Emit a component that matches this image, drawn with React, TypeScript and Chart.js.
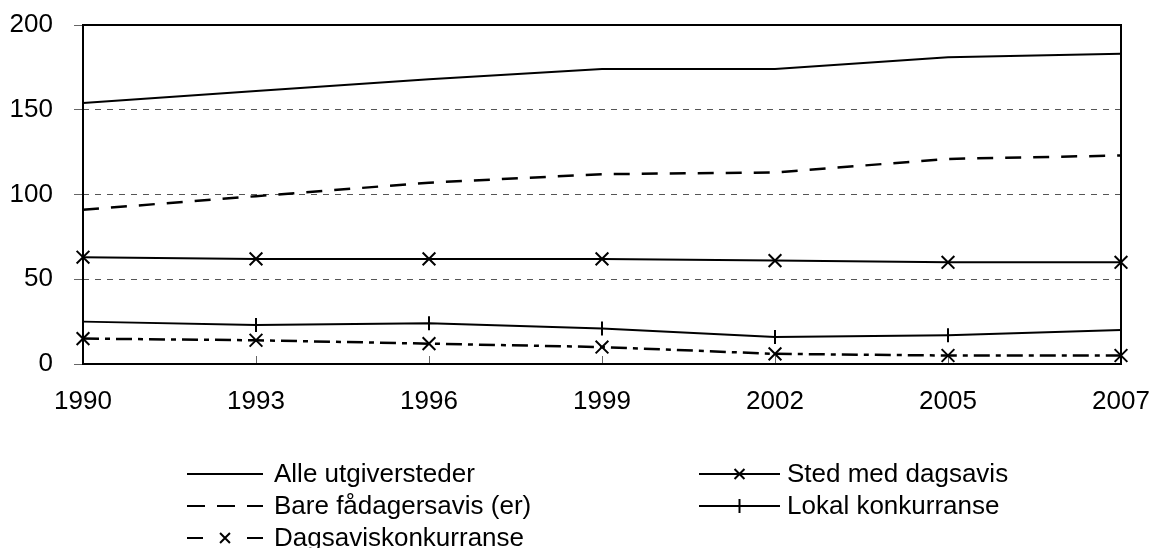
import React, { useEffect, useRef } from "react";
import { Chart, registerables } from "chart.js";

Chart.register(...registerables);

const years = ["1990", "1993", "1996", "1999", "2002", "2005", "2007"];
const alleUtgiversteder = [154, 161, 168, 174, 174, 181, 183];
const stedMedDagsavis = [63, 62, 62, 62, 61, 60, 60];
const bareFadagersavis = [91, 99, 107, 112, 113, 121, 123];
const lokalKonkurranse = [25, 23, 24, 21, 16, 17, 20];
const dagsaviskonkurranse = [15, 14, 12, 10, 6, 5, 5];
const yTicks = [0, 50, 100, 150, 200];

const FONT = '"Liberation Sans", Arial, sans-serif';

// legend layout: [datasetIndex, sampleStartX, sampleEndX, textX, centerY]
const legendLayout: [number, number, number, number, number][] = [
  [0, 187, 263, 274, 474],
  [1, 699, 780, 787, 474],
  [2, 187, 263, 274, 506],
  [3, 699, 780, 787, 506],
  [4, 187, 263, 274, 538],
];

function drawMarker(ctx: CanvasRenderingContext2D, style: string, x: number, y: number, r: number) {
  ctx.beginPath();
  if (style === "crossRot") {
    const o = r * Math.SQRT1_2;
    ctx.moveTo(x - o, y - o);
    ctx.lineTo(x + o, y + o);
    ctx.moveTo(x - o, y + o);
    ctx.lineTo(x + o, y - o);
  } else if (style === "line") {
    ctx.moveTo(x, y - r);
    ctx.lineTo(x, y + r);
  }
  ctx.stroke();
}

const framePlugin = {
  id: "frame",
  beforeDatasetsDraw(chart: any) {
    const { ctx, chartArea, scales } = chart;
    ctx.save();
    ctx.strokeStyle = "#666";
    ctx.lineWidth = 1;
    const xs = scales.x;
    xs.ticks.forEach((_t: any, i: number) => {
      const px = Math.round(xs.getPixelForTick(i)) + 0.5;
      ctx.beginPath();
      ctx.moveTo(px, chartArea.bottom);
      ctx.lineTo(px, chartArea.bottom - 8);
      ctx.stroke();
    });
    ctx.strokeStyle = "#000";
    ctx.lineWidth = 2;
    ctx.strokeRect(chartArea.left, chartArea.top, chartArea.right - chartArea.left, chartArea.bottom - chartArea.top);
    ctx.restore();
  },
};

const legendPlugin = {
  id: "customLegend",
  afterDraw(chart: any) {
    const { ctx } = chart;
    ctx.save();
    ctx.font = `26px ${FONT}`;
    ctx.textBaseline = "middle";
    ctx.textAlign = "left";
    legendLayout.forEach(([di, x1, x2, tx, cy]) => {
      const ds = chart.data.datasets[di];
      ctx.strokeStyle = "#000";
      ctx.lineWidth = 2;
      ctx.setLineDash(ds.legendDash || []);
      ctx.beginPath();
      ctx.moveTo(x1, cy);
      ctx.lineTo(x2, cy);
      ctx.stroke();
      ctx.setLineDash([]);
      if (ds.pointRadius > 0) {
        drawMarker(ctx, ds.pointStyle, (x1 + x2) / 2, cy, 7);
      }
      ctx.fillStyle = "#000";
      ctx.fillText(ds.label, tx, cy + 1);
    });
    ctx.restore();
  },
};

export default function App() {
  const ref = useRef<HTMLCanvasElement | null>(null);
  useEffect(() => {
    if (!ref.current) return;
    const chart = new Chart(ref.current, {
      type: "line",
      data: {
        labels: years,
        datasets: [
          {
            label: "Alle utgiversteder",
            data: alleUtgiversteder,
            borderColor: "#000",
            borderWidth: 2,
            pointRadius: 0,
            tension: 0,
          } as any,
          {
            label: "Sted med dagsavis",
            data: stedMedDagsavis,
            borderColor: "#000",
            borderWidth: 2,
            pointStyle: "crossRot",
            pointRadius: 9,
            pointBorderWidth: 2,
            pointBorderColor: "#000",
            pointBackgroundColor: "rgba(0,0,0,0)",
            tension: 0,
          },
          {
            label: "Bare fådagersavis (er)",
            data: bareFadagersavis,
            borderColor: "#000",
            borderWidth: 2.5,
            borderDash: [16, 12],
            legendDash: [18, 12],
            pointRadius: 0,
            tension: 0,
          },
          {
            label: "Lokal konkurranse",
            data: lokalKonkurranse,
            borderColor: "#000",
            borderWidth: 2,
            pointStyle: "line",
            rotation: 90,
            pointRotation: 90,
            pointRadius: 7,
            pointBorderWidth: 2,
            pointBorderColor: "#000",
            tension: 0,
          },
          {
            label: "Dagsaviskonkurranse",
            data: dagsaviskonkurranse,
            borderColor: "#000",
            borderWidth: 2.5,
            borderDash: [16, 6, 5, 6],
            legendDash: [16, 44, 16],
            pointStyle: "crossRot",
            pointRadius: 9,
            pointBorderWidth: 2,
            pointBorderColor: "#000",
            pointBackgroundColor: "rgba(0,0,0,0)",
            tension: 0,
          },
        ] as any,
      },
      options: {
        animation: false,
        responsive: false,
        devicePixelRatio: 1,
        layout: { padding: { top: 25, right: 31, left: 0, bottom: 0 } },
        plugins: { legend: { display: false }, tooltip: { enabled: false } },
        scales: {
          x: {
            type: "category",
            offset: false,
            grid: { display: true, drawOnChartArea: false, drawTicks: false },
            border: { display: false },
            ticks: {
              color: "#000",
              font: { family: FONT, size: 26 },
              padding: 22,
              maxRotation: 0,
              autoSkip: false,
            },
            afterFit: (s: any) => {
              s.height = 184;
              s.paddingLeft = 0;
              s.paddingRight = 0;
              s.paddingTop = 0;
              s.paddingBottom = 0;
            },
          },
          y: {
            min: 0,
            max: 200,
            afterBuildTicks: (s: any) => {
              s.ticks = yTicks.map((v) => ({ value: v }));
            },
            grid: {
              color: (c: any) =>
                c.tick && c.tick.value > 0 && c.tick.value < 200 ? "#555" : "rgba(0,0,0,0)",
              lineWidth: 1,
              drawTicks: true,
              tickLength: 9,
              tickColor: "#666",
              tickBorderDash: [],
            } as any,
            border: { display: false, dash: [6, 6] },
            ticks: {
              color: "#000",
              font: { family: FONT, size: 26 },
              padding: 21,
            },
            afterFit: (s: any) => {
              s.width = 83;
              s.paddingLeft = 0;
              s.paddingRight = 0;
              s.paddingTop = 0;
              s.paddingBottom = 0;
            },
          },
        },
      } as any,
      plugins: [framePlugin, legendPlugin],
    });
    return () => chart.destroy();
  }, []);
  return (
    <div style={{ position: "absolute", left: 0, top: 0, width: 1152, height: 548, background: "#fff" }}>
      <canvas ref={ref} width={1152} height={548} style={{ display: "block" }} />
    </div>
  );
}
